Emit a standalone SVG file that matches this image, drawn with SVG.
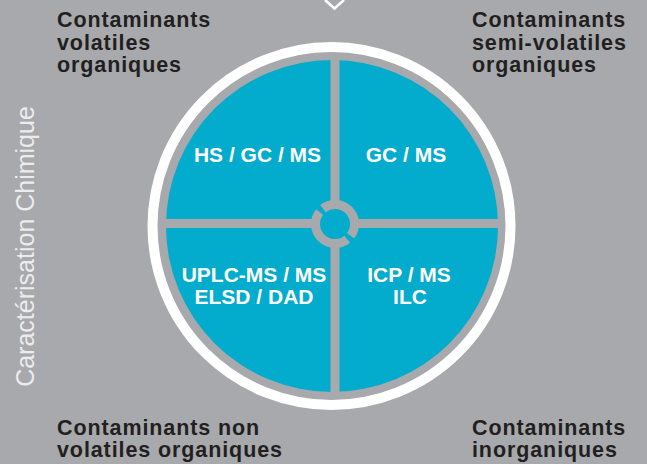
<svg xmlns="http://www.w3.org/2000/svg" width="647" height="464" viewBox="0 0 647 464">
<style>
.lbl{font-family:"Liberation Sans",Arial,sans-serif;font-weight:bold;font-size:21.5px;fill:#231f20;letter-spacing:0.9px}
.q{font-family:"Liberation Sans",Arial,sans-serif;font-weight:bold;font-size:21px;fill:#ffffff;text-anchor:middle}
.side{font-family:"Liberation Sans",Arial,sans-serif;font-size:25px;fill:#ececec;text-anchor:middle}
.bar{stroke:#a7a9ac;stroke-width:9;fill:none}
</style>
<rect width="647" height="464" fill="#a7a9ac"/>
<polyline points="325,0 334.5,8.5 344,0" fill="none" stroke="#ffffff" stroke-width="2.6"/>
<g id="wheel">
<circle cx="331.5" cy="226" r="179" fill="none" stroke="#ffffff" stroke-width="10"/>
<circle cx="332" cy="226" r="166" fill="#03abcd"/>
</g>
<g id="connectors">
<line class="bar" x1="160" y1="223.5" x2="504" y2="223.5"/>
<line class="bar" x1="335" y1="55" x2="335" y2="397"/>
<circle cx="335" cy="224" r="19.5" fill="#03abcd"/>
<path class="bar" stroke-width="7" d="M347.27,239.15 A19.5,19.5 0 0 1 319.63,212.0"/>
<path class="bar" stroke-width="7" d="M322.99,208.63 A19.5,19.5 0 0 1 350.57,235.74"/>
</g>
<g id="q-hs"><text class="q" x="257.5" y="162">HS / GC / MS</text></g>
<g id="q-gc"><text class="q" x="406" y="162">GC / MS</text></g>
<g id="q-uplc"><text class="q" x="254" y="282">UPLC-MS / MS</text><text class="q" x="254" y="304">ELSD / DAD</text></g>
<g id="q-icp"><text class="q" x="409" y="282">ICP / MS</text><text class="q" x="410" y="304">ILC</text></g>
<g id="tl"><text class="lbl" x="57" y="27">Contaminants</text><text class="lbl" x="57" y="49.5">volatiles</text><text class="lbl" x="57" y="72">organiques</text></g>
<g id="tr"><text class="lbl" x="472" y="27">Contaminants</text><text class="lbl" x="472" y="49.5">semi-volatiles</text><text class="lbl" x="472" y="72">organiques</text></g>
<g id="bl"><text class="lbl" x="57" y="435">Contaminants non</text><text class="lbl" x="57" y="457">volatiles organiques</text></g>
<g id="br"><text class="lbl" x="472" y="435">Contaminants</text><text class="lbl" x="472" y="457">inorganiques</text></g>
<g id="side"><text class="side" transform="translate(33.5,246.5) rotate(-90)">Caractérisation Chimique</text></g>
</svg>
